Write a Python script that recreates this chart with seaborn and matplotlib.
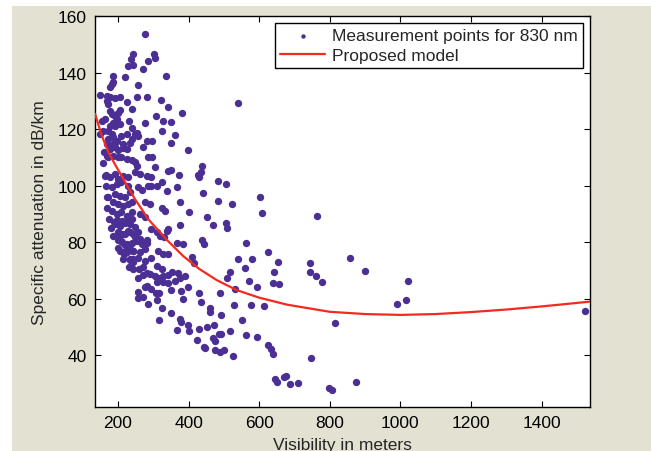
import matplotlib
matplotlib.use("Agg")
import matplotlib.pyplot as plt
import seaborn as sns
import pandas as pd
from matplotlib.patches import Rectangle

# ---- data ----
vis = [
    # upper region (>= 114 dB/km)
    278, 242, 237, 303, 305, 284, 243, 229, 272, 336, 187, 187, 182, 220, 177, 258, 149, 168, 177, 192,
    206, 253, 281, 321, 227, 168, 173, 341, 241, 380, 177, 182, 192, 201, 206, 308, 196, 187, 163, 154,
    328, 350, 278, 231, 177, 192, 206, 173, 159, 324, 239, 362, 281, 350, 297, 248, 253, 258, 182, 187,
    173, 196, 210, 225, 239, 168, 187, 215, 234, 149, 539,
    # dense left cluster 69-114
    177, 192, 201, 215, 225, 272, 168, 173, 187, 201, 210, 225, 239, 248, 253, 286,
    248, 262, 163, 177, 192, 201, 215, 229, 281, 196, 210, 182, 229, 173, 192, 206, 220, 234, 258, 267, 286,
    187, 201, 215, 229, 239, 277, 182, 196, 210, 225, 239, 262, 277, 192, 206, 220, 234, 248,
    201, 215, 229, 243, 258, 210, 225, 239, 253, 267, 281, 206, 225, 243, 262, 277, 201,
    215, 234, 258, 277, 243, 272, 169, 166, 160, 157, 165, 170, 175, 180, 185,
    188, 197, 211, 225, 240, 202, 207, 221, 235, 199, 211, 223, 249, 263, 273, 282,
    216, 233, 244, 261, 230, 244, 217, 221, 233, 244,
    # left cluster below 69
    272, 281, 258, 277, 258, 258, 272, 284, 282,
    # 290-320 column
    295, 310, 319, 314, 328, 343, 295, 310, 324, 293, 295, 310, 291, 305, 297,
    # 290-400, 49-70
    291, 305, 314, 319, 328, 343, 352, 371, 376, 390, 310, 328, 341, 362, 295, 307, 317, 350, 378, 397,
    385, 312, 324, 349, 317, 376, 378, 399,
    # middle region
    397, 439, 434, 430, 373, 343, 350, 484, 505, 324, 366, 338, 440, 376, 484, 524, 602, 607, 763, 326,
    333, 401, 453, 468, 505, 508, 376, 343, 338, 330, 437, 443, 563, 368, 385, 410, 416, 539, 579, 624,
    653, 744, 744, 760, 779, 643, 656, 640, 560, 517, 510, 572, 593, 531, 489, 430, 434, 461, 461, 530,
    577, 614, 491, 550, 473, 451, 430, 428,
    # low points
    563, 595, 624, 633, 640, 747, 646, 650, 669, 675, 688, 709, 798, 807, 424, 445, 447, 474, 490, 501,
    527, 469, 474, 485, 491, 517, 367, 400,
    # far right
    875, 816, 857, 900, 989, 1016, 1022, 1522,
]
atten = [
    153.7, 146.5, 144.7, 146.5, 145.3, 143.9, 142.8, 142.4, 141.2, 138.8, 138.8, 136.5, 135.9, 138.3, 134.7, 135.5, 132.0, 131.7, 131.4, 131.1,
    131.4, 131.5, 131.5, 130.3, 129.4, 130.0, 128.8, 127.9, 127.0, 125.5, 126.4, 125.2, 124.6, 125.8, 126.8, 124.6, 123.5, 122.3, 123.5, 122.9,
    122.9, 122.5, 122.3, 122.9, 121.1, 121.1, 121.7, 119.3, 119.3, 119.3, 120.5, 117.8, 115.8, 115.0, 115.9, 118.1, 118.7, 117.5, 118.1, 117.0,
    116.4, 115.8, 117.5, 118.1, 116.4, 114.6, 114.6, 114.6, 115.2, 118.1, 129.2,
    113.0, 113.5, 112.4, 113.3, 113.0, 113.8, 110.6, 110.0, 110.6, 110.0, 110.0, 109.4, 109.0, 108.2, 107.0, 110.0,
    104.7, 104.1, 103.5, 102.9, 104.1, 102.3, 103.5, 102.9, 103.5, 100.5, 101.1, 99.4, 99.9, 95.8, 97.0, 96.4, 95.8, 97.6, 99.4, 98.4, 99.9,
    94.0, 93.4, 92.8, 93.4, 94.0, 94.0, 91.1, 89.9, 90.5, 89.3, 90.5, 89.9, 88.7, 86.3, 85.8, 86.9, 86.3, 85.2,
    83.4, 82.8, 84.0, 82.8, 83.4, 80.4, 79.3, 79.8, 80.4, 79.3, 79.8, 76.9, 76.3, 76.9, 76.3, 77.5, 78.0,
    73.9, 73.9, 74.5, 73.3, 70.4, 71.0, 96.1, 103.8, 112.0, 108.0, 100.0, 92.0, 88.0, 85.0, 82.0,
    87.1, 87.7, 87.3, 87.7, 88.0, 83.3, 82.4, 83.0, 83.6, 80.6, 80.0, 79.0, 81.8, 81.2, 79.4, 80.6,
    76.4, 77.4, 74.0, 70.5, 71.1, 72.9, 75.8, 79.0, 73.5, 76.7,
    68.3, 69.2, 67.1, 64.2, 62.4, 60.1, 60.7, 57.9, 64.5,
    84.6, 83.4, 82.2, 76.9, 75.7, 75.7, 74.5, 71.6, 70.4, 102.9, 99.9, 99.9, 93.4, 106.7, 110.2,
    68.6, 68.0, 67.4, 66.8, 68.0, 68.3, 69.4, 69.2, 67.4, 68.0, 65.7, 65.7, 65.4, 66.3, 63.3, 61.9, 62.1, 63.1, 62.7, 64.2,
    59.8, 59.4, 56.6, 55.0, 52.4, 52.7, 51.7, 50.5,
    112.6, 106.8, 104.7, 103.1, 103.8, 105.3, 105.6, 101.5, 100.6, 101.1, 99.6, 98.2, 97.2, 94.3, 94.6, 93.4, 95.8, 90.2, 89.3, 91.9,
    91.1, 90.5, 88.9, 86.1, 86.7, 84.9, 86.1, 84.6, 84.0, 81.6, 80.6, 79.2, 79.6, 79.5, 79.2, 74.8, 72.4, 73.9, 73.9, 76.3,
    73.1, 72.4, 69.4, 68.0, 65.9, 69.4, 65.0, 65.4, 70.7, 69.4, 67.4, 66.2, 63.9, 63.5, 62.1, 61.9, 58.6, 56.8, 55.3, 57.7,
    57.7, 57.4, 54.2, 52.4, 50.5, 49.9, 49.1, 103.8,
    47.1, 46.3, 43.5, 42.0, 40.2, 39.0, 31.4, 30.5, 32.3, 32.5, 29.8, 30.1, 28.2, 27.6, 45.2, 43.0, 42.4, 41.6, 41.0, 41.9,
    39.8, 46.0, 45.0, 47.5, 47.3, 48.4, 48.8, 48.4,
    30.4, 51.2, 74.5, 69.6, 58.2, 59.4, 66.3, 55.7,
]

model_vis = [135, 154, 173, 191, 210, 229, 248, 267, 285, 338, 385, 430, 480, 536, 600, 680, 800,
             900, 1000, 1100, 1200, 1300, 1400, 1537]
model_att = [125.4, 117.7, 111.8, 107.6, 103.5, 99.3, 95.2, 91.7, 88.2, 80.8, 75.0, 70.5, 66.5, 63.0,
             60.3, 57.8, 55.3, 54.5, 54.2, 54.5, 55.2, 56.1, 57.2, 58.9]

x_ticks = [200, 400, 600, 800, 1000, 1200, 1400]
y_ticks = [40, 60, 80, 100, 120, 140, 160]

n = min(len(vis), len(atten))
pts = pd.DataFrame({"vis": vis[:n], "att": atten[:n]})
curve = pd.DataFrame({"vis": model_vis, "att": model_att})

sns.set_theme(style="ticks")
plt.rcParams["font.family"] = ["Liberation Sans", "DejaVu Sans"]

fig = plt.figure(figsize=(6.51, 4.52), dpi=100, facecolor="white")
fig.patches.append(Rectangle((12 / 651, 0), 1, 1 - 7 / 452, transform=fig.transFigure,
                             facecolor="#e3e2d2", edgecolor="none", zorder=-10))
ax = fig.add_axes([95 / 651, 1 - 408 / 452, 495 / 651, 391 / 452])
ax.set_facecolor("white")

sns.scatterplot(data=pts, x="vis", y="att", ax=ax, color="#4b2f94", s=28, linewidth=0,
                label="Measurement points for 830 nm", zorder=2)
sns.lineplot(data=curve, x="vis", y="att", ax=ax, color="#f42a1e", linewidth=1.6,
             label="Proposed model", zorder=3, sort=True)

ax.set_xlim(135, 1537)
ax.set_ylim(21.6, 160)
ax.set_xticks(x_ticks)
ax.set_yticks(y_ticks)
ax.tick_params(direction="in", length=4, width=0.8, top=True, right=True,
               labelsize=12.5, colors="black", pad=6)
for sp in ax.spines.values():
    sp.set_visible(True)
    sp.set_linewidth(1.0)
    sp.set_color("black")
ax.set_xlabel("Visibility in meters", fontsize=12.5, labelpad=5)
ax.set_ylabel("Specific attenuation in dB/km", fontsize=12.5, labelpad=8)

leg = ax.legend(loc="upper right", bbox_to_anchor=(0.986, 0.982), borderaxespad=0,
                fancybox=False, edgecolor="black", framealpha=1, fontsize=12.5,
                handlelength=2.6, handletextpad=0.4, labelspacing=0.25, borderpad=0.3,
                markerscale=0.6)
leg.get_frame().set_linewidth(1.0)

fig.savefig("out.png", dpi=100, facecolor=fig.get_facecolor())
